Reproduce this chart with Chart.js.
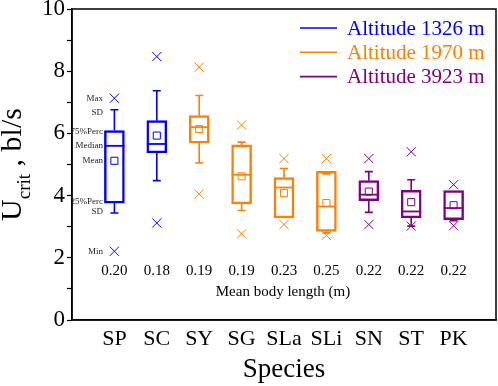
<!DOCTYPE html>
<html>
<head>
<meta charset="utf-8">
<script src="https://cdn.jsdelivr.net/npm/chart.js@4"></script>
<style>
  body { margin: 0; background: #fff; }
</style>
</head>
<body>
<canvas id="graficoUcrit" width="498" height="386"></canvas>
<script>
// datos
const especies = ['SP', 'SC', 'SY', 'SG', 'SLa', 'SLi', 'SN', 'ST', 'PK'];
const grupo = [0, 0, 1, 1, 1, 1, 2, 2, 2]; // indice de altitud
const altitudes = ['Altitude 1326 m', 'Altitude 1970 m', 'Altitude 3923 m'];
const colores = ['#0000FF', '#FF8000', '#800080'];

const p25 = [3.76, 5.37, 5.69, 3.73, 3.28, 2.85, 3.84, 3.28, 3.23];
const p75 = [6.09, 6.41, 6.57, 5.63, 4.58, 4.78, 4.48, 4.17, 4.16];
const mediana = [5.60, 5.66, 6.20, 4.67, 4.26, 3.65, 4.03, 3.49, 3.60];
const media = [5.12, 5.93, 6.14, 4.62, 4.08, 3.76, 4.13, 3.79, 3.69];
const sdAlto = [6.76, 7.37, 7.22, 5.72, 4.87, 4.70, 4.77, 4.51, 4.16];
const sdBajo = [3.44, 4.48, 5.05, 3.52, 3.28, 2.80, 3.46, 3.02, 3.19];
const maximo = [7.13, 8.47, 8.13, 6.27, 5.19, 5.19, 5.19, 5.41, 4.35];
const minimo = [2.21, 3.12, 4.05, 2.77, 3.07, 2.72, 3.07, 3.02, 3.03];
const largoCuerpo = ['0.20', '0.18', '0.19', '0.19', '0.23', '0.25', '0.22', '0.22', '0.22'];

const fuente = 'Liberation Serif';
const colorDe = i => colores[grupo[i]];

// cosas que Chart.js no dibuja solo: mediana, bigotes, marco, leyenda, textos
const extrasPlugin = {
    id: 'extras',
    afterDatasetsDraw(chart) {
        const ctx = chart.ctx;
        const x = chart.scales.x;
        const y = chart.scales.y;
        const area = chart.chartArea;

        ctx.save();
        especies.forEach((esp, i) => {
            const cx = x.getPixelForValue(i + 1);
            ctx.strokeStyle = colorDe(i);
            ctx.lineWidth = 1.8;
            // mediana
            ctx.beginPath();
            ctx.moveTo(cx - 10, y.getPixelForValue(mediana[i]));
            ctx.lineTo(cx + 10, y.getPixelForValue(mediana[i]));
            ctx.stroke();
            // bigotes (SD)
            ctx.lineWidth = 1.6;
            const bigotes = [[p75[i], sdAlto[i]], [p25[i], sdBajo[i]]];
            bigotes.forEach(([desde, hasta]) => {
                if (Math.abs(desde - hasta) < 0.01) return;
                ctx.beginPath();
                ctx.moveTo(cx, y.getPixelForValue(desde));
                ctx.lineTo(cx, y.getPixelForValue(hasta));
                ctx.moveTo(cx - 4, y.getPixelForValue(hasta));
                ctx.lineTo(cx + 4, y.getPixelForValue(hasta));
                ctx.stroke();
            });
        });

        // marco
        ctx.strokeStyle = '#000';
        ctx.lineWidth = 1.5;
        ctx.strokeRect(area.left, area.top, area.right - area.left, area.bottom - area.top);

        // leyenda
        ctx.font = '21px "' + fuente + '"';
        ctx.textBaseline = 'middle';
        ctx.textAlign = 'left';
        altitudes.forEach((txt, k) => {
            const ly = 28 + k * 24.3;
            ctx.strokeStyle = colores[k];
            ctx.lineWidth = 1.6;
            ctx.beginPath();
            ctx.moveTo(300, ly);
            ctx.lineTo(337, ly);
            ctx.stroke();
            ctx.fillStyle = colores[k];
            ctx.fillText(txt, 347, ly + 1);
        });

        // largo medio del cuerpo
        ctx.fillStyle = '#000';
        ctx.font = '15px "' + fuente + '"';
        ctx.textAlign = 'center';
        largoCuerpo.forEach((l, i) => {
            ctx.fillText(l, x.getPixelForValue(i + 1), 271);
        });
        ctx.fillText('Mean body length (m)', 283, 292);

        // etiquetas explicativas del primer box
        ctx.font = '9px "' + fuente + '"';
        ctx.textAlign = 'right';
        ctx.fillStyle = '#222';
        const etiquetas = [
            ['Max', maximo[0]], ['SD', sdAlto[0], 3], ['75%Perc', p75[0], 1], ['Median', mediana[0]],
            ['Mean', media[0]], ['25%Perc', p25[0], -1], ['SD', sdBajo[0], -1], ['Min', minimo[0]]
        ];
        etiquetas.forEach(([t, v, d]) => {
            ctx.fillText(t, 103, y.getPixelForValue(v) + (d || 0));
        });

        // titulo eje y con subindice
        ctx.fillStyle = '#000';
        ctx.save();
        ctx.translate(21, (area.top + area.bottom) / 2);
        ctx.rotate(-Math.PI / 2);
        ctx.textAlign = 'left';
        ctx.textBaseline = 'alphabetic';
        const partes = [['U', 30, 0], ['crit', 19, 9], [' , bl/s', 30, 0]];
        let ancho = 0;
        partes.forEach(([t, s]) => { ctx.font = s + 'px "' + fuente + '"'; ancho += ctx.measureText(t).width; });
        let px = -ancho / 2;
        partes.forEach(([t, s, dy]) => {
            ctx.font = s + 'px "' + fuente + '"';
            ctx.fillText(t, px, dy);
            px += ctx.measureText(t).width;
        });
        ctx.restore();

        // titulo eje x
        ctx.font = '27px "' + fuente + '"';
        ctx.textAlign = 'center';
        ctx.textBaseline = 'middle';
        ctx.fillText('Species', (area.left + area.right) / 2, 370);
        ctx.restore();
    }
};

const ctx = document.getElementById('graficoUcrit').getContext('2d');

new Chart(ctx, {
    type: 'bar',
    data: {
        datasets: [{
            // cajas 25% - 75%
            type: 'bar',
            data: especies.map((e, i) => ({ x: i + 1, y: [p25[i], p75[i]] })),
            backgroundColor: 'rgba(0,0,0,0)',
            borderColor: especies.map((e, i) => colorDe(i)),
            borderWidth: 1.8,
            borderSkipped: false,
            barThickness: 20,
            grouped: false
        }, {
            // media
            type: 'scatter',
            data: especies.map((e, i) => ({ x: i + 1, y: media[i] })),
            pointStyle: 'rect',
            pointRadius: 5,
            pointBorderWidth: 1,
            pointBackgroundColor: 'rgba(0,0,0,0)',
            pointBorderColor: especies.map((e, i) => colorDe(i))
        }, {
            // max y min
            type: 'scatter',
            data: especies.flatMap((e, i) => [{ x: i + 1, y: maximo[i] }, { x: i + 1, y: minimo[i] }]),
            pointStyle: 'crossRot',
            pointRadius: 6.5,
            pointBorderWidth: 1,
            pointBorderColor: especies.flatMap((e, i) => [colorDe(i), colorDe(i)])
        }]
    },
    options: {
        responsive: false,
        animation: false,
        // sin autoPadding los puntos no empujan el area del grafico
        layout: { autoPadding: false, padding: { top: 9, right: 2, left: 0, bottom: 0 } },
        plugins: {
            legend: { display: false },
            tooltip: { enabled: false }
        },
        scales: {
            x: {
                type: 'linear',
                min: 0,
                max: 10,
                offset: false,
                afterFit: s => { s.height = 66; s.paddingLeft = 0; s.paddingRight = 0; },
                grid: { display: true, drawOnChartArea: false, drawTicks: false, offset: false },
                border: { color: '#000', width: 1.5 },
                ticks: {
                    stepSize: 1,
                    autoSkip: false,
                    maxRotation: 0,
                    padding: 6,
                    color: '#000',
                    font: { family: fuente, size: 22 },
                    callback: v => especies[v - 1] || ''
                }
            },
            y: {
                min: 0,
                max: 10,
                afterFit: s => { s.width = 72; s.paddingTop = 0; s.paddingBottom = 0; },
                grid: { drawOnChartArea: false, tickLength: 5, color: '#000', tickWidth: 1.2 },
                border: { color: '#000', width: 1.5 },
                ticks: {
                    stepSize: 1,
                    padding: 2,
                    color: '#000',
                    font: { family: fuente, size: 23 },
                    callback: v => v % 2 === 0 ? v : ''
                }
            }
        }
    },
    plugins: [extrasPlugin]
});
</script>
</body>
</html>
